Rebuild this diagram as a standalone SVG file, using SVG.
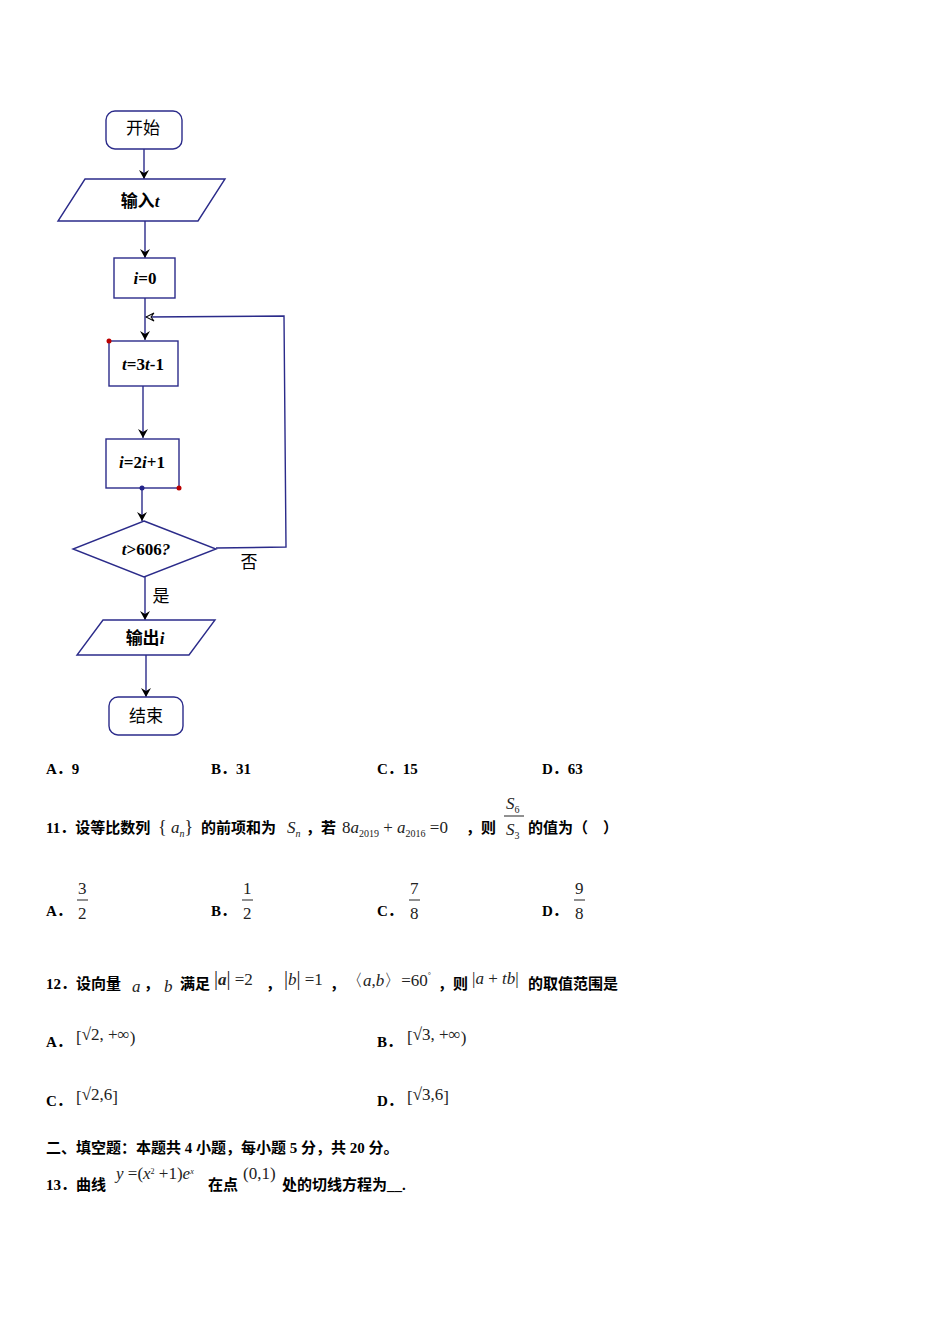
<svg xmlns="http://www.w3.org/2000/svg" width="950" height="1344" viewBox="0 0 950 1344">
<defs>
<marker id="ar" markerWidth="10" markerHeight="10" refX="9" refY="5" orient="auto" markerUnits="userSpaceOnUse"><path d="M0,0 L9,5 L0,10 L3,5 Z" fill="#000"/></marker>
<marker id="oa" markerWidth="10" markerHeight="10" refX="9" refY="5" orient="auto" markerUnits="userSpaceOnUse"><path d="M1,1 L9,5 L1,9 L4,5 Z" fill="#fff" stroke="#000" stroke-width="1"/></marker>
</defs>
<style>
.n{fill:#fff;stroke:#2b2b8a;stroke-width:1.4}
.c{stroke:#2b2b8a;stroke-width:1.4;fill:none}
.t{font-family:"Liberation Serif","Noto Sans CJK SC",serif;font-size:17px;fill:#000;text-anchor:middle}
.b{font-family:"Liberation Serif","Noto Sans CJK SC",serif;font-weight:bold;font-size:15px;fill:#000}
.m{font-family:"Liberation Serif",serif;font-size:17px;fill:#222}
.s{font-size:10px}
</style>
<rect width="950" height="1344" fill="#fff"/>
<g id="connectors">
<path class="c" d="M144,149 V179" marker-end="url(#ar)"/>
<path class="c" d="M145,221 V258" marker-end="url(#ar)"/>
<path class="c" d="M145,298 V340" marker-end="url(#ar)"/>
<path class="c" d="M216,548 L286,547 L284,316 L146,317" marker-end="url(#oa)"/>
<path class="c" d="M143,386 V438" marker-end="url(#ar)"/>
<path class="c" d="M142,488 V521" marker-end="url(#ar)"/>
<path class="c" d="M145,577 V620" marker-end="url(#ar)"/>
<path class="c" d="M146,655 V697" marker-end="url(#ar)"/>
<text class="t" x="249" y="568" font-size="16">否</text>
<text class="t" x="161" y="602" font-size="16">是</text>
</g>
<g id="start"><rect class="n" x="106" y="111" width="76" height="38" rx="9"/><text class="t" x="143" y="134">开始</text></g>
<g id="input"><polygon class="n" points="85,179 225,179 198,221 58,221"/><text class="t" x="140" y="207" font-weight="bold">输入<tspan font-style="italic">t</tspan></text></g>
<g id="init"><rect class="n" x="114" y="258" width="61" height="40"/><text class="t" x="145" y="284" font-weight="bold"><tspan font-style="italic">i</tspan>=0</text></g>
<g id="upd_t"><rect class="n" x="109" y="341" width="69" height="45"/><circle cx="109" cy="341" r="2.5" fill="#b00"/><text class="t" x="143" y="370" font-weight="bold"><tspan font-style="italic">t</tspan>=3<tspan font-style="italic">t</tspan>-1</text></g>
<g id="upd_i"><rect class="n" x="106" y="439" width="73" height="49"/><circle cx="142" cy="488" r="2.5" fill="#228"/><circle cx="179" cy="488" r="2.5" fill="#b00"/><text class="t" x="142" y="468" font-weight="bold"><tspan font-style="italic">i</tspan>=2<tspan font-style="italic">i</tspan>+1</text></g>
<g id="cond"><polygon class="n" points="144,521 216,549 144,577 73,549"/><text class="t" x="146" y="555" font-weight="bold" font-style="italic">t<tspan font-style="normal">&gt;606</tspan>?</text></g>
<g id="output"><polygon class="n" points="103,620 215,620 189,655 77,655"/><text class="t" x="145" y="644" font-weight="bold">输出<tspan font-style="italic">i</tspan></text></g>
<g id="end"><rect class="n" x="109" y="697" width="74" height="38" rx="9"/><text class="t" x="146" y="722">结束</text></g>
<g id="text">
<text class="b" x="46" y="774">A．9</text><text class="b" x="211" y="774">B．31</text><text class="b" x="377" y="774">C．15</text><text class="b" x="542" y="774">D．63</text>
<text class="b" x="46" y="833">11．设等比数列</text>
<text class="m" x="158" y="833"><tspan font-size="18">{</tspan> <tspan font-style="italic">a</tspan><tspan class="s" font-style="italic" dy="4">n</tspan><tspan dy="-4" font-size="18">}</tspan></text>
<text class="b" x="201" y="833">的前项和为</text>
<text class="m" x="287" y="833" font-style="italic">S<tspan class="s" dy="4">n</tspan></text>
<text class="b" x="306" y="833">，若</text>
<text class="m" x="342" y="833">8<tspan font-style="italic">a</tspan><tspan class="s" dy="4">2019</tspan><tspan dy="-4"> + </tspan><tspan font-style="italic">a</tspan><tspan class="s" dy="4">2016</tspan><tspan dy="-4"> =0</tspan></text>
<text class="b" x="466" y="833">，则</text>
<text class="m" x="506" y="809" font-style="italic">S<tspan class="s" dy="4" font-style="normal">6</tspan></text>
<line x1="504" y1="816" x2="524" y2="816" stroke="#222"/>
<text class="m" x="506" y="835" font-style="italic">S<tspan class="s" dy="4" font-style="normal">3</tspan></text>
<text class="b" x="528" y="833">的值为（　）</text>
<text class="b" x="46" y="916">A．</text><text class="m" x="78" y="894">3</text><line x1="77" y1="900" x2="88" y2="900" stroke="#222"/><text class="m" x="78" y="919">2</text>
<text class="b" x="211" y="916">B．</text><text class="m" x="243" y="894">1</text><line x1="242" y1="900" x2="253" y2="900" stroke="#222"/><text class="m" x="243" y="919">2</text>
<text class="b" x="377" y="916">C．</text><text class="m" x="410" y="894">7</text><line x1="409" y1="900" x2="420" y2="900" stroke="#222"/><text class="m" x="410" y="919">8</text>
<text class="b" x="542" y="916">D．</text><text class="m" x="575" y="894">9</text><line x1="574" y1="900" x2="585" y2="900" stroke="#222"/><text class="m" x="575" y="919">8</text>
<text class="b" x="46" y="989">12．设向量</text><text class="m" x="132" y="992" font-style="italic">a</text><text class="b" x="144" y="989">，</text><text class="m" x="164" y="992" font-style="italic">b</text><text class="b" x="180" y="989">满足</text>
<text class="m" x="214" y="985"><tspan font-size="20">|</tspan><tspan font-weight="bold" font-style="italic">a</tspan><tspan font-size="20">|</tspan> =2</text><text class="b" x="266" y="989">，</text>
<text class="m" x="284" y="985"><tspan font-size="20">|</tspan><tspan font-style="italic">b</tspan><tspan font-size="20">|</tspan> =1</text><text class="b" x="330" y="989">，</text>
<text class="m" x="346" y="986" font-size="22">〈<tspan font-size="17" font-style="italic">a</tspan><tspan font-size="17">,</tspan><tspan font-size="17" font-style="italic">b</tspan>〉<tspan font-size="17">=60</tspan><tspan font-size="8" dy="-8">°</tspan></text>
<text class="b" x="438" y="989">，则</text>
<text class="m" x="472" y="984" font-size="22">|<tspan font-size="17" font-style="italic">a</tspan><tspan font-size="17"> + </tspan><tspan font-size="17" font-style="italic">tb</tspan>|</text>
<text class="b" x="528" y="989">的取值范围是</text>
<text class="b" x="46" y="1047">A．</text><text class="m" x="76" y="1043" font-size="26">[<tspan font-size="17" dy="-3">√2, +∞</tspan><tspan dy="3">)</tspan></text>
<text class="b" x="377" y="1047">B．</text><text class="m" x="407" y="1043" font-size="26">[<tspan font-size="17" dy="-3">√3, +∞</tspan><tspan dy="3">)</tspan></text>
<text class="b" x="46" y="1106">C．</text><text class="m" x="76" y="1103" font-size="26">[<tspan font-size="17" dy="-3">√2,6</tspan><tspan dy="3">]</tspan></text>
<text class="b" x="377" y="1106">D．</text><text class="m" x="407" y="1103" font-size="26">[<tspan font-size="17" dy="-3">√3,6</tspan><tspan dy="3">]</tspan></text>
<text class="b" x="46" y="1153">二、填空题：本题共 4 小题，每小题 5 分，共 20 分。</text>
<text class="b" x="46" y="1190">13．曲线</text>
<text class="m" x="116" y="1179" font-size="13" font-style="italic">y<tspan font-style="normal"> =(</tspan>x<tspan font-size="8" font-style="normal" dy="-5">2</tspan><tspan font-style="normal" dy="5"> +1)</tspan>e<tspan font-size="8" dy="-5">x</tspan></text>
<text class="b" x="208" y="1190">在点</text>
<text class="m" x="243" y="1179">(0,1)</text>
<text class="b" x="282" y="1190">处的切线方程为__.</text>
</g>
</svg>
